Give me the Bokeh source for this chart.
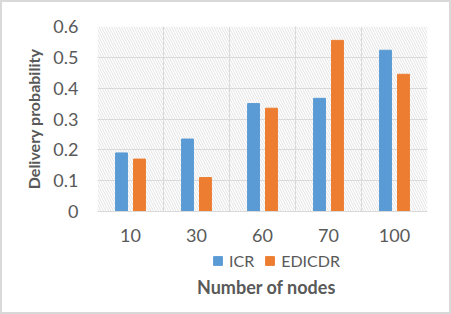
import numpy as np
from bokeh.plotting import figure
from bokeh.layouts import column
from bokeh.models import (Range1d, FixedTicker, Legend, LegendItem, Label,
                          BoxAnnotation, ColumnDataSource)
from bokeh.embed import file_html
from bokeh.resources import INLINE

categories = ["10", "30", "60", "70", "100"]
icr = [0.19, 0.235, 0.35, 0.367, 0.523]
edicdr = [0.17, 0.11, 0.335, 0.555, 0.445]
y_ticks = [0, 0.1, 0.2, 0.3, 0.4, 0.5, 0.6]
series_names = ["ICR", "EDICDR"]
x_title = "Number of nodes"
y_title = "Delivery probability"

BLUE = "#5B9BD5"
ORANGE = "#ED7D31"
GRID = "#d9d9d9"
TXT = "#595959"
FONT = "Lato"

n = len(categories)
xc = np.arange(n) + 0.5
src = ColumnDataSource(dict(x1=xc - 0.136, x2=xc + 0.136, icr=icr, ed=edicdr))

p = figure(frame_width=330, frame_height=185, output_backend="svg",
           toolbar_location=None,
           x_range=Range1d(0, n), y_range=Range1d(0, 0.6),
           min_border_left=95, min_border_right=22, min_border_top=24,
           min_border_bottom=40)
p.outline_line_color = None
p.background_fill_color = "white"

bg = BoxAnnotation(fill_color=None, fill_alpha=0, line_color=None,
                   hatch_pattern="left_diagonal_line", hatch_color="#dcdcdc",
                   hatch_scale=5, hatch_weight=0.8, level="underlay")
p.add_layout(bg)

p.vbar(x="x1", top="icr", width=0.18, source=src, color=BLUE)
p.vbar(x="x2", top="ed", width=0.18, source=src, color=ORANGE)

p.xaxis.ticker = FixedTicker(ticks=list(xc))
p.xaxis.major_label_overrides = {float(x): c for x, c in zip(xc, categories)}
p.xaxis.axis_line_color = GRID
p.xaxis.major_tick_line_color = None
p.xaxis.minor_tick_line_color = None
p.xaxis.major_label_text_font = FONT
p.xaxis.major_label_text_font_size = "18px"
p.xaxis.major_label_text_color = TXT
p.xaxis.major_label_standoff = 11

p.yaxis.ticker = FixedTicker(ticks=y_ticks)
p.yaxis.major_label_overrides = {0: "0"}
p.yaxis.axis_line_color = None
p.yaxis.major_tick_line_color = None
p.yaxis.minor_tick_line_color = None
p.yaxis.major_label_text_font = FONT
p.yaxis.major_label_text_font_size = "18px"
p.yaxis.major_label_text_color = TXT
p.yaxis.major_label_standoff = 13
p.yaxis.axis_label = y_title
p.yaxis.axis_label_text_font = FONT
p.yaxis.axis_label_text_font_style = "bold"
p.yaxis.axis_label_text_font_size = "16px"
p.yaxis.axis_label_text_color = TXT
p.yaxis.axis_label_standoff = 7

p.ygrid.grid_line_color = GRID
p.xgrid.ticker = FixedTicker(ticks=list(range(n + 1)))
p.xgrid.grid_line_color = GRID

# lower strip: legend + x-axis title; its frame is aligned with the main
# frame (330 px wide), bars of this strip lie outside its view
p2 = figure(width=447, height=61, output_backend="svg", toolbar_location=None,
            x_range=Range1d(0, 330), y_range=Range1d(1, 62),
            min_border=0, x_axis_type=None, y_axis_type=None)
p2.outline_line_color = None
p2.grid.visible = False
e1 = p2.vbar(x="x1", top="icr", width=0.18, source=src, color=BLUE)
e2 = p2.vbar(x="x2", top="ed", width=0.18, source=src, color=ORANGE)
legend = Legend(items=[LegendItem(label=series_names[0], renderers=[e1]),
                       LegendItem(label=series_names[1], renderers=[e2])],
                orientation="horizontal", location=(115, 42),
                label_text_font=FONT, label_text_font_size="16px",
                label_text_color=TXT, glyph_width=11, glyph_height=11,
                spacing=10, label_standoff=6, padding=0, margin=0,
                label_height=16, border_line_color=None,
                background_fill_alpha=0)
p2.add_layout(legend)
p2.add_layout(Label(x=169, y=27, text=x_title, text_align="center",
                    text_baseline="middle", text_font=FONT,
                    text_font_style="bold", text_font_size="18px",
                    text_color=TXT))

layout = column(p, p2, spacing=0,
                styles={"border": "2px solid #d9d9d9", "background": "white"})
open("out.html", "w").write(file_html(layout, INLINE))
